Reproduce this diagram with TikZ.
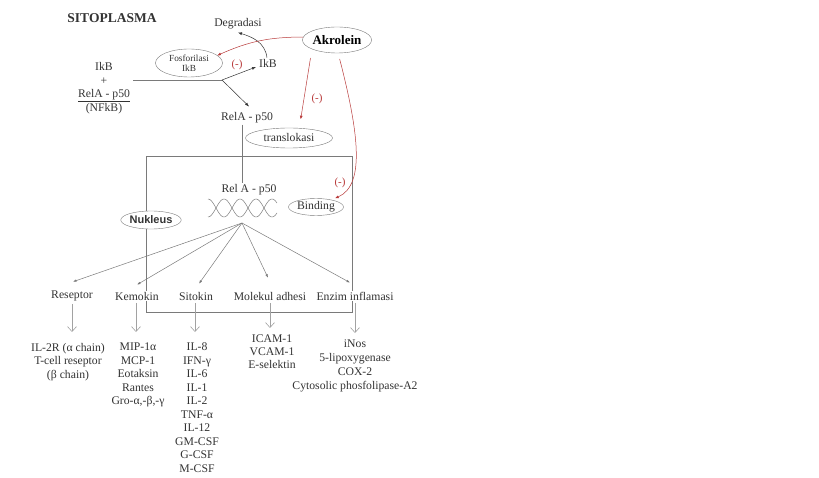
\documentclass[tikz,border=0pt]{standalone}
\usepackage{fontspec}
\setmainfont{Liberation Serif}
\newfontfamily\nukfont{Liberation Sans}
\usetikzlibrary{arrows.meta,shapes.geometric}
\definecolor{txt}{HTML}{333333}
\definecolor{ln}{HTML}{7A7A7A}
\definecolor{akr}{HTML}{B83A3A}

\tikzset{
  lbl/.style={text=txt, font=\fontsize{11.7}{13.5}\selectfont, inner sep=1pt},
  lst/.style={lbl, align=center, anchor=north, inner sep=0pt},
  oval/.style={lbl, ellipse, draw=ln, fill=white, inner sep=0pt},
  tip/.style={txt, line width=0.5pt, -{Latex[length=4pt,width=3pt]}},
  inh/.style={akr, line width=0.5pt, -{Latex[length=3.5pt,width=3pt]}},
  fanarr/.style={ln, line width=0.5pt, -{Latex[length=3.5pt,width=2.5pt]}},
  dn/.style={ln!70, line width=0.6pt, -{Straight Barb[length=5pt,width=9pt]}},
  minus/.style={text=akr, font=\fontsize{11}{12}\selectfont, inner sep=0pt}
}

\begin{document}
\begin{tikzpicture}[x=1pt,y=-1pt]
\useasboundingbox (0,0) rectangle (819,478);
% sitoplasma
\node[lbl,font=\fontsize{13.5}{15}\selectfont\bfseries] (sito) at (112,18) {SITOPLASMA};
\node[lbl] (deg) at (238,24) {Degradasi};
\node[oval,minimum width=65pt,minimum height=26pt,font=\fontsize{13}{15}\selectfont\bfseries,text=black] (akr) at (337,40) {Akrolein};
\node[oval,font=\fontsize{9.3}{10}\selectfont,align=center,minimum width=67pt,minimum height=28pt] (fos) at (189,63) {Fosforilasi\\IkB};
\node[lbl] (ikb) at (268,63) {IkB};
\node[lbl,align=center] (nfkb) at (104,88) {IkB\\+\\\underline{RelA - p50}\\(NFkB)};
\node[lbl] (rela) at (247,118) {RelA - p50};
\node[oval,minimum width=87pt,minimum height=20pt] (trans) at (289,138) {translokasi};
\coordinate (junc) at (222,80);
\coordinate (fan) at (242,223);
\draw[ln,line width=0.5pt] ([xshift=2pt]nfkb.east |- junc) -- (junc);
\draw[tip] (junc) -- ([xshift=-12pt,yshift=-4pt]ikb.center);
\draw[tip] (junc) -- ([xshift=2pt,yshift=5pt]rela.north);
\draw[tip] ([xshift=-1pt]ikb.north) .. controls (265,42) and (252,37) .. ([yshift=-2pt]deg.south);
% nukleus
\draw[ln,line width=0.5pt] (146,156) rectangle (352,312);
\node[lbl] (relb) at (249,190) {Rel A - p50};
\draw[ln,line width=0.5pt] (rela.south -| fan) -- (relb.north -| fan);
\draw[ln,line width=0.5pt] plot[domain=208:277,samples=90] (\x,{208+9*cos(180*(\x-208)/16)});
\draw[ln,line width=0.5pt] plot[domain=208:277,samples=90] (\x,{208-9*cos(180*(\x-208)/16)});
\node[oval,minimum width=55pt,minimum height=17pt] (bind) at (316,207) {Binding};
\node[oval,minimum width=57pt,minimum height=18pt,font=\nukfont\fontsize{11}{12}\selectfont\bfseries] (nuk) at (151,220) {Nukleus};
% akrolein
\draw[inh] (akr.175) to[bend right=12] (fos.15);
\draw[inh,shorten <=9pt,shorten >=9pt] (akr.200) -- (trans.44);
\draw[inh,shorten <=6pt,shorten >=4pt] (akr.275) .. controls (358,130) and (366,185) .. (bind.25);
\node[minus] (m1) at (237,65) {(-)};
\node[minus] (m2) at (317,99) {(-)};
\node[minus] (m3) at (340,183) {(-)};
% produk
\node[lbl,fill=white] (resep) at (72,296) {Reseptor};
\node[lbl,fill=white] (kemo) at (137,296) {Kemokin};
\node[lbl,fill=white] (sitok) at (196,296) {Sitokin};
\node[lbl,fill=white] (molek) at (270,296) {Molekul adhesi};
\node[lbl,fill=white] (enzim) at (355,296) {Enzim inflamasi};
\foreach \t/\dx/\dy in {resep/1/8, kemo/0/6, sitok/3/7, molek/-2/13, enzim/-5/8}
  \draw[fanarr] (fan) -- ([xshift=\dx pt,yshift=\dy pt]\t.north);
\node[lst] (resepl) at (68,343) {IL-2R (α chain)\\T-cell reseptor\\(β chain)};
\node[lst] (kemol) at (138,343) {MIP-1α\\MCP-1\\Eotaksin\\Rantes\\Gro-α,-β,-γ};
\node[lst] (sitokl) at (197,343) {IL-8\\IFN-γ\\IL-6\\IL-1\\IL-2\\TNF-α\\IL-12\\GM-CSF\\G-CSF\\M-CSF};
\node[lst,font=\fontsize{11.7}{13}\selectfont] (molekl) at (272,335) {ICAM-1\\VCAM-1\\E-selektin};
\node[lst,font=\fontsize{11.7}{14}\selectfont] (enziml) at (355,340) {iNos\\5-lipoxygenase\\COX-2\\Cytosolic phosfolipase-A2};
\foreach \t/\dx/\s in {resep/0/11, kemo/-1/11, sitok/-1/11, molek/0/7, enzim/0/7}
  \draw[dn,shorten <=1.5pt,shorten >=\s pt] ([xshift=\dx pt]\t.south) -- ([xshift=\dx pt]\t.south |- \t l.north);
\end{tikzpicture}
\end{document}
